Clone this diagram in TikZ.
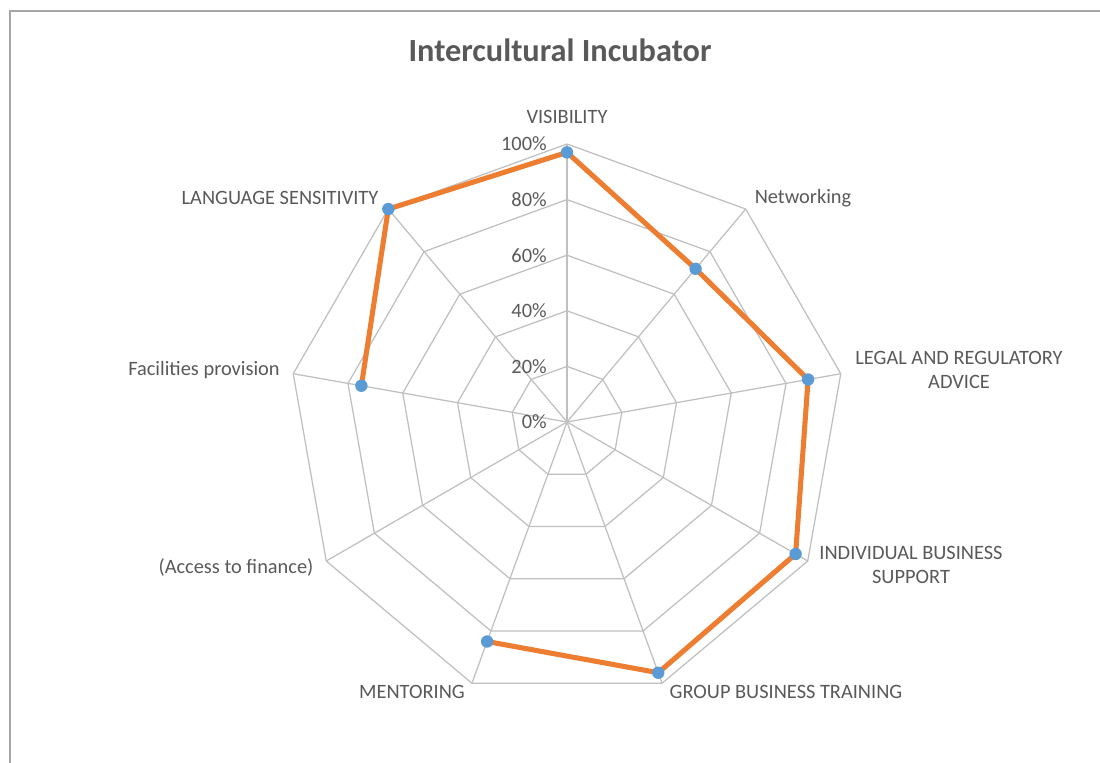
\documentclass[tikz,border=0pt]{standalone}
\usepackage{fontspec}
\setmainfont{Carlito}
\definecolor{gridgray}{RGB}{192,192,192}
\definecolor{txtgray}{RGB}{89,89,89}
\definecolor{lineorange}{RGB}{237,125,49}
\definecolor{dotblue}{RGB}{91,155,213}
\definecolor{framegray}{RGB}{166,166,166}
\tikzset{
  grid/.style={draw=gridgray, line width=0.9pt, line join=round},
  series/.style={draw=lineorange, line width=3.6pt, line join=round},
  dot/.style={fill=dotblue},
  axislabel/.style={text=txtgray, font=\fontsize{14.5}{17.5}\selectfont, align=center, inner sep=0pt},
  pct/.style={text=txtgray, font=\fontsize{14.5}{17}\selectfont, anchor=east, inner sep=0pt},
  charttitle/.style={text=txtgray, font=\fontsize{23}{27}\selectfont\bfseries, inner sep=0pt}
}
\begin{document}
\begin{tikzpicture}
\useasboundingbox (0,0) rectangle (27.5,19.075);

% frame
\draw[framegray, line width=1.4pt] (0.25,0) -- (0.25,18.8) -- (27.5,18.8);

% title
\node[charttitle] (title) at (14.0,17.825) {Intercultural Incubator};

\begin{scope}[shift={(14.175,8.525)}]
% rings
\draw[grid] (90:1.39) -- (50:1.39) -- (10:1.39) -- (-30:1.39) -- (-70:1.39) -- (-110:1.39) -- (-150:1.39) -- (170:1.39) -- (130:1.39) -- cycle;
\draw[grid] (90:2.78) -- (50:2.78) -- (10:2.78) -- (-30:2.78) -- (-70:2.78) -- (-110:2.78) -- (-150:2.78) -- (170:2.78) -- (130:2.78) -- cycle;
\draw[grid] (90:4.17) -- (50:4.17) -- (10:4.17) -- (-30:4.17) -- (-70:4.17) -- (-110:4.17) -- (-150:4.17) -- (170:4.17) -- (130:4.17) -- cycle;
\draw[grid] (90:5.56) -- (50:5.56) -- (10:5.56) -- (-30:5.56) -- (-70:5.56) -- (-110:5.56) -- (-150:5.56) -- (170:5.56) -- (130:5.56) -- cycle;
\draw[grid] (90:6.95) -- (50:6.95) -- (10:6.95) -- (-30:6.95) -- (-70:6.95) -- (-110:6.95) -- (-150:6.95) -- (170:6.95) -- (130:6.95) -- cycle;

% spokes
\coordinate (c) at (0,0);
\coordinate (vis) at (90:6.95);
\coordinate (net) at (50:6.95);
\coordinate (legal) at (10:6.95);
\coordinate (indiv) at (-30:6.95);
\coordinate (group) at (-70:6.95);
\coordinate (ment) at (-110:6.95);
\coordinate (fin) at (-150:6.95);
\coordinate (fac) at (170:6.95);
\coordinate (lang) at (130:6.95);
\draw[grid] (c) -- (vis);
\draw[grid] (c) -- (net);
\draw[grid] (c) -- (legal);
\draw[grid] (c) -- (indiv);
\draw[grid] (c) -- (group);
\draw[grid] (c) -- (ment);
\draw[grid] (c) -- (fin);
\draw[grid] (c) -- (fac);
\draw[grid] (c) -- (lang);

% data points
\coordinate (pvis) at (90:6.74);
\coordinate (pnet) at (50:5.0);
\coordinate (plegal) at (10:6.12);
\coordinate (pindiv) at (-30:6.6);
\coordinate (pgroup) at (-70:6.67);
\coordinate (pment) at (-110:5.84);
\coordinate (pfac) at (170:5.22);
\coordinate (plang) at (130:6.95);
\draw[series] (pvis) -- (pnet) -- (plegal) -- (pindiv) -- (pgroup) -- (pment);
\draw[series] (pfac) -- (plang) -- (pvis);
\fill[dot] (pvis) circle (0.155);
\fill[dot] (pnet) circle (0.155);
\fill[dot] (plegal) circle (0.155);
\fill[dot] (pindiv) circle (0.155);
\fill[dot] (pgroup) circle (0.155);
\fill[dot] (pment) circle (0.155);
\fill[dot] (pfac) circle (0.155);
\fill[dot] (plang) circle (0.155);
\end{scope}

% percent scale
\node[pct] (p0) at (13.675,8.525) {0\%};
\node[pct] (p20) at (13.675,9.915) {20\%};
\node[pct] (p40) at (13.675,11.305) {40\%};
\node[pct] (p60) at (13.675,12.695) {60\%};
\node[pct] (p80) at (13.675,14.085) {80\%};
\node[pct] (p100) at (13.675,15.475) {100\%};

% axis labels
\node[axislabel] (lvis) at (14.175,16.15) {VISIBILITY};
\node[axislabel] (lnet) at (20.075,14.125) {Networking};
\node[axislabel] (llegal) at (23.975,9.825) {LEGAL AND REGULATORY\\ADVICE};
\node[axislabel] (lindiv) at (22.775,4.95) {INDIVIDUAL BUSINESS\\SUPPORT};
\node[axislabel] (lgroup) at (19.65,1.775) {GROUP BUSINESS TRAINING};
\node[axislabel] (lment) at (10.3,1.775) {MENTORING};
\node[axislabel] (lfin) at (5.9,4.9) {(Access to finance)};
\node[axislabel] (lfac) at (5.1,9.825) {Facilities provision};
\node[axislabel] (llang) at (7.0,14.125) {LANGUAGE SENSITIVITY};

\end{tikzpicture}
\end{document}
